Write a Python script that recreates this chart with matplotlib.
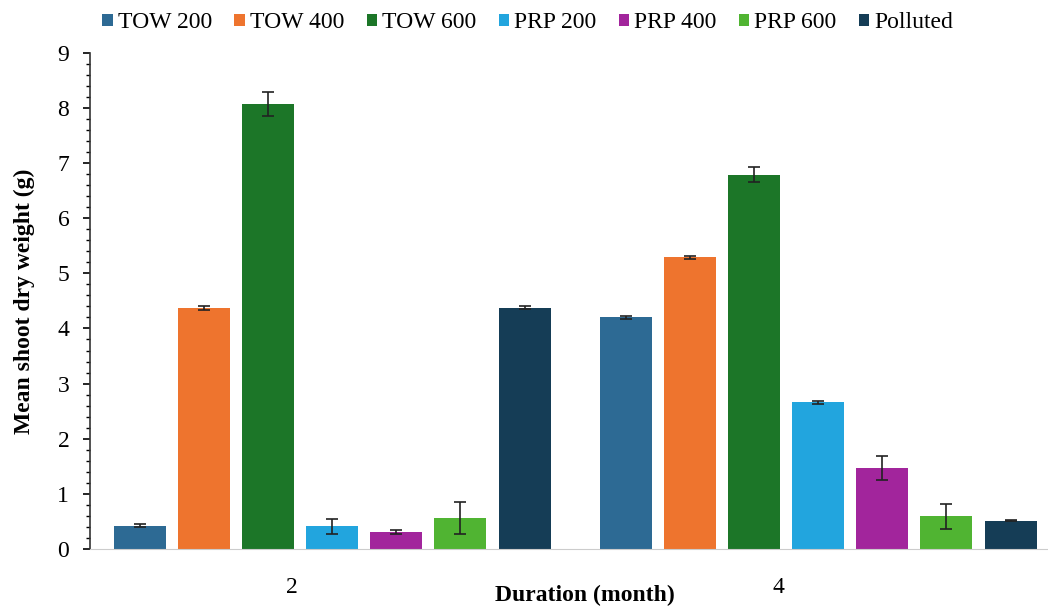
import numpy as np
import matplotlib.pyplot as plt
from matplotlib.ticker import MultipleLocator

# data
months = ['2', '4']
series = ['TOW 200', 'TOW 400', 'TOW 600', 'PRP 200', 'PRP 400', 'PRP 600', 'Polluted']
means = {
    'TOW 200': [0.42, 4.20],
    'TOW 400': [4.37, 5.29],
    'TOW 600': [8.07, 6.79],
    'PRP 200': [0.41, 2.66],
    'PRP 400': [0.31, 1.47],
    'PRP 600': [0.57, 0.59],
    'Polluted': [4.38, 0.51],
}
errors = {
    'TOW 200': [0.03, 0.03],
    'TOW 400': [0.03, 0.03],
    'TOW 600': [0.22, 0.13],
    'PRP 200': [0.13, 0.03],
    'PRP 400': [0.03, 0.21],
    'PRP 600': [0.29, 0.22],
    'Polluted': [0.03, 0.01],
}
colors = ['#2D6A94', '#EE742E', '#1C7628', '#22A5DE', '#A2259C', '#50B432', '#153D56']

plt.rcParams['font.family'] = ['Liberation Serif', 'DejaVu Serif']

fig = plt.figure(figsize=(10.48, 6.07), dpi=100)
ax = fig.add_axes([0.086, 0.0956, 0.914, 0.8174])

x = np.arange(len(months))
pitch = 0.132
width = 0.107
for i, name in enumerate(series):
    pos = x + (i - 3) * pitch
    ax.bar(pos, means[name], width, color=colors[i], label=name,
           yerr=errors[name], capsize=4,
           error_kw=dict(ecolor='#222222', elinewidth=1.2, capthick=1.2))

ax.set_xlim(-0.498, 1.473)
ax.set_ylim(0, 9)
ax.yaxis.set_major_locator(MultipleLocator(1))
ax.yaxis.set_minor_locator(MultipleLocator(0.2))
ax.set_xticks(x - 0.082)
ax.set_xticklabels(months)
ax.tick_params(axis='x', length=0, pad=20, labelsize=17)
ax.tick_params(axis='y', which='major', direction='out', length=5, width=1.2, labelsize=17, pad=10)
ax.tick_params(axis='y', which='minor', direction='out', length=3, width=1)

for s in ['top', 'right']:
    ax.spines[s].set_visible(False)
ax.spines['bottom'].set_color('#cccccc')
ax.spines['left'].set_color('#333333')
ax.spines['left'].set_linewidth(1.2)

ax.set_ylabel('Mean shoot dry weight (g)', fontsize=17, fontweight='bold')
ax.yaxis.set_label_coords(-0.058, 0.5)
ax.set_xlabel('Duration (month)', fontsize=17, fontweight='bold')
ax.xaxis.set_label_coords(0.517, -0.072)

ax.legend(loc='lower left', bbox_to_anchor=(0.003, 1.02), ncol=7, frameon=False,
          fontsize=17, handlelength=0.45, handleheight=0.45, handletextpad=0.2,
          columnspacing=0.95, borderaxespad=0)

fig.savefig('out.png', dpi=100)
